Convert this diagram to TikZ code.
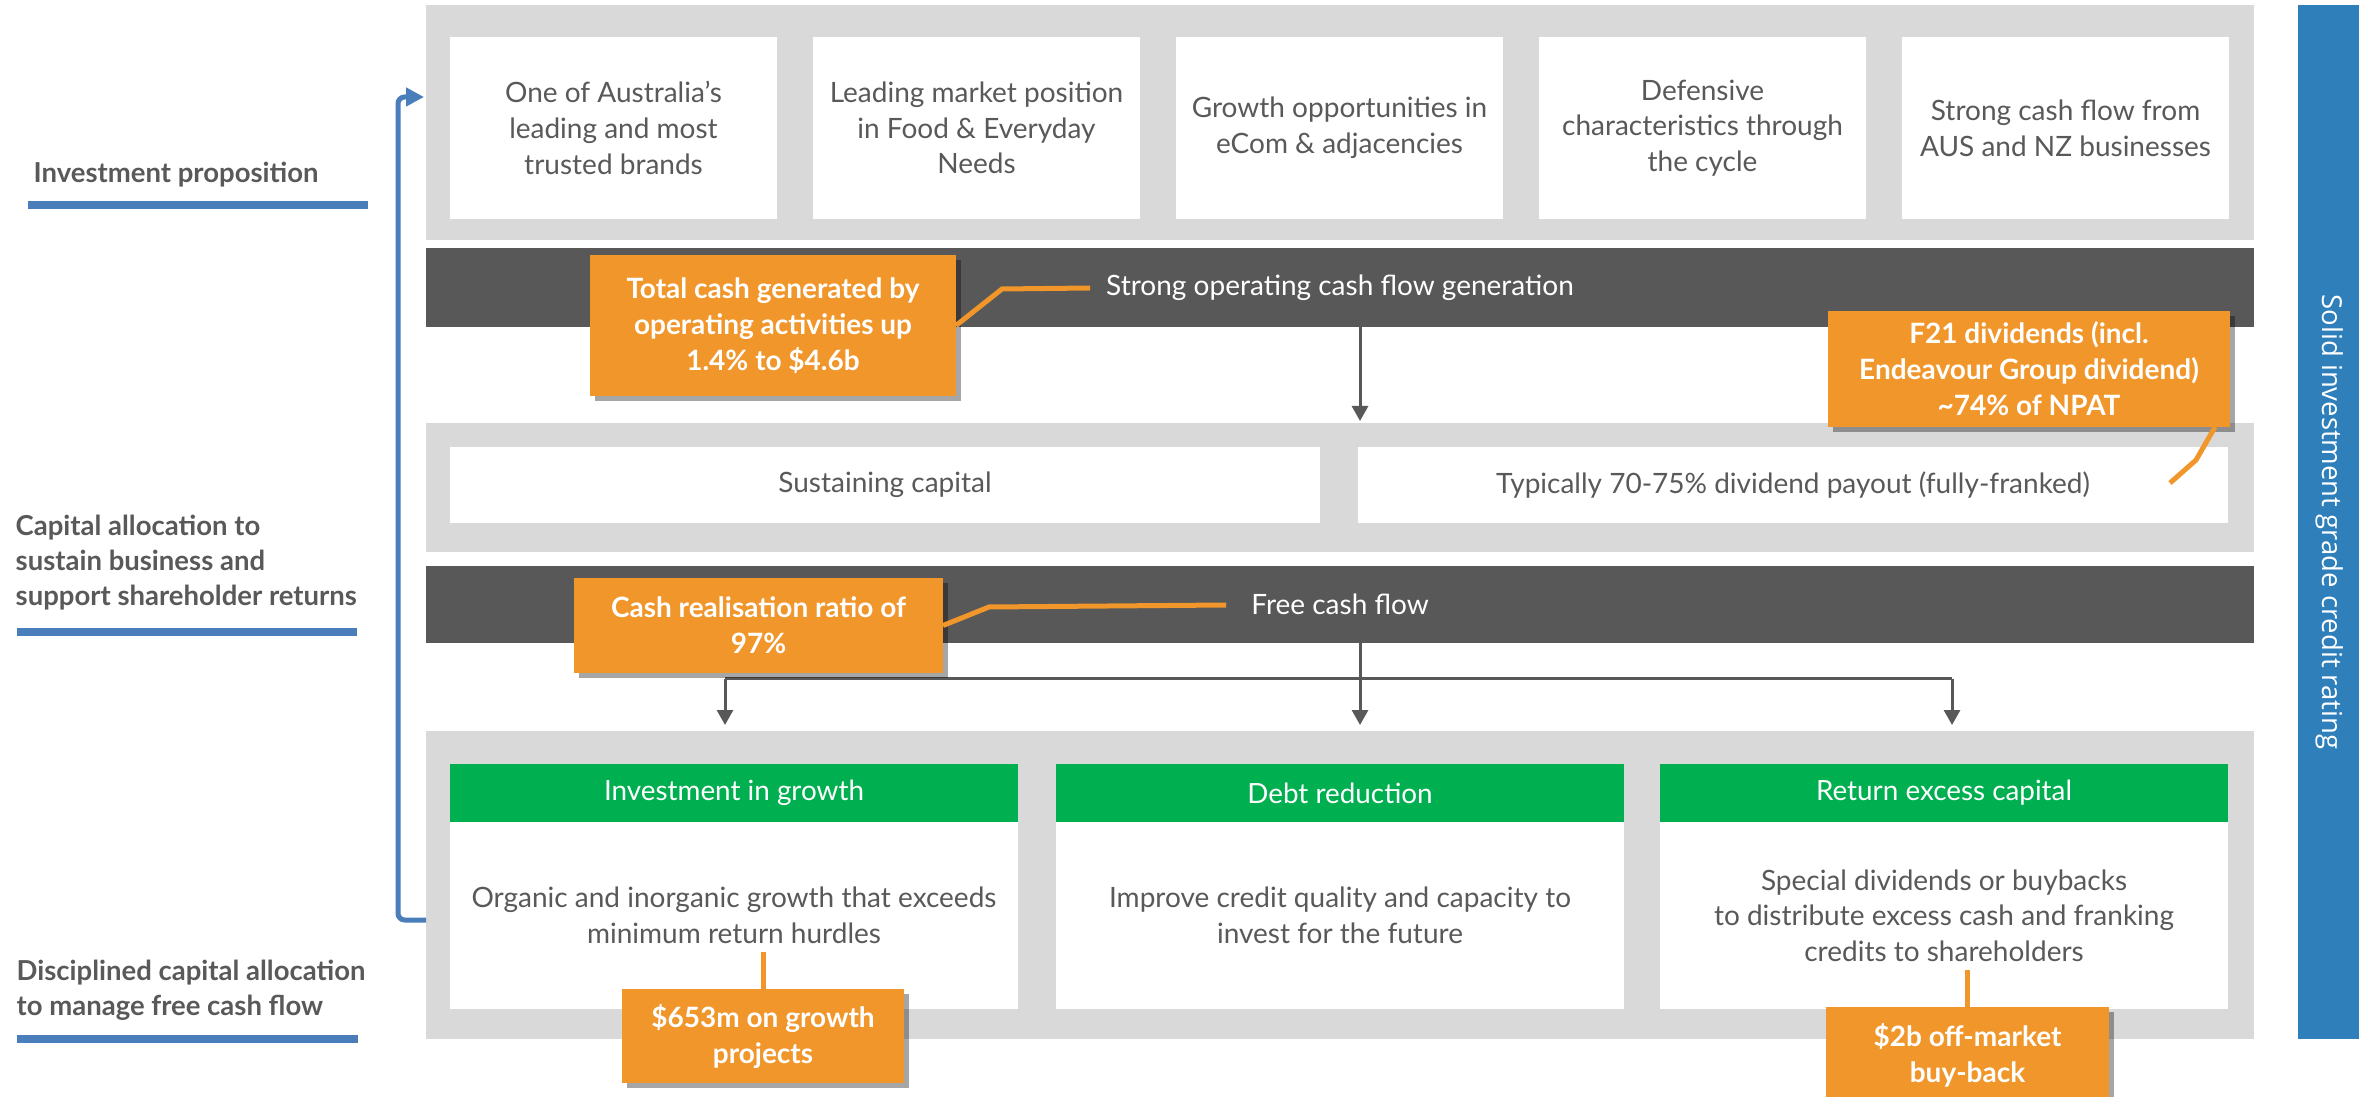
\documentclass[tikz,border=0pt]{standalone}
\usepackage{fontspec}
\setmainfont{Lato}
\newfontfamily\osans{Open Sans}
\usetikzlibrary{calc,shadows,arrows.meta}
\definecolor{cgray}{HTML}{D9D9D9}
\definecolor{cdark}{HTML}{585858}
\definecolor{corange}{HTML}{F0962A}
\definecolor{cgreen}{HTML}{00AF50}
\definecolor{cblue}{HTML}{2E7FBA}
\definecolor{cline}{HTML}{4A7EBB}
\definecolor{ctext}{HTML}{595959}
\tikzset{
  rect/.style={rectangle, inner sep=0pt, outer sep=0pt},
  panel/.style={rect, fill=cgray, minimum width=1828*0.3pt},
  wbox/.style={rect, fill=white, text=ctext, align=center, font=\fontsize{8.4pt}{10.7pt}\selectfont},
  topbox/.style={wbox, minimum width=327*0.3pt, minimum height=182*0.3pt},
  colbox/.style={wbox, minimum width=568*0.3pt, minimum height=187*0.3pt},
  bar/.style={rect, fill=cdark, text=white, minimum width=1828*0.3pt, font=\fontsize{8.4pt}{10pt}\selectfont},
  obox/.style={rect, fill=corange, text=white, align=center, font=\bfseries\fontsize{8.4pt}{10.8pt}\selectfont, drop shadow={shadow xshift=1.5pt, shadow yshift=-1.5pt, opacity=0.35, fill=black}},
  ghead/.style={rect, fill=cgreen, text=white, minimum width=568*0.3pt, minimum height=58*0.3pt, font=\fontsize{8.35pt}{10pt}\selectfont},
  lbl/.style={text=ctext, align=left, inner sep=0pt, font=\bfseries\fontsize{8.25pt}{10.5pt}\selectfont},
  uline/.style={draw=cline, line width=2.4pt},
  oline/.style={draw=corange, line width=1.5pt},
  garrow/.style={draw=cdark, line width=0.9pt, -{Triangle[length=4.5pt,width=4.8pt]}},
  gline/.style={draw=cdark, line width=0.9pt},
  barrow/.style={draw=cline, line width=1.5pt, rounded corners=2pt, -{Triangle[length=5.4pt,width=5.4pt]}}
}
\begin{document}
\begin{tikzpicture}[x=0.3pt,y=-0.3pt]
\useasboundingbox (0,0) rectangle (2367,1097);

% top panel
\node[panel, minimum height=235*0.3pt] (p1) at (1340,122.5) {};
\node[topbox] (t1) at (613.5,128) {One of Australia’s\\leading and most\\trusted brands};
\node[topbox] (t2) at (976.5,128) {Leading market position\\in Food \& Everyday\\Needs};
\node[topbox] (t3) at (1339.5,128) {Growth opportunities in\\eCom \& adjacencies};
\node[topbox] (t4) at (1702.5,128) {Defensive\\characteristics through\\the cycle};
\node[topbox] (t5) at (2065.5,128) {Strong cash flow from\\AUS and NZ businesses};

% bar 1
\node[bar, minimum height=79*0.3pt] (b1) at (1340,287.5) {Strong operating cash flow generation};

% panel 2
\node[panel, minimum height=129*0.3pt] (p2) at (1340,487.5) {};
\node[wbox, minimum width=870*0.3pt, minimum height=76*0.3pt] (s1) at (885,485) {Sustaining capital};
\node[wbox, minimum width=870*0.3pt, minimum height=76*0.3pt] (s2) at (1793,485) {Typically 70-75\% dividend payout (fully-franked)};

% bar 2
\node[bar, minimum height=77*0.3pt] (b2) at (1340,604.5) {Free cash flow};

% panel 3
\node[panel, minimum height=308*0.3pt] (p3) at (1340,885) {};
\node[ghead] (g1) at (734,793) {Investment in growth};
\node[ghead] (g2) at (1340,793) {Debt reduction};
\node[ghead] (g3) at (1944,793) {Return excess capital};
\node[colbox] (d1) at (734,915.5) {Organic and inorganic growth that exceeds\\minimum return hurdles};
\node[colbox] (d2) at (1340,915.5) {Improve credit quality and capacity to\\invest for the future};
\node[colbox] (d3) at (1944,915.5) {Special dividends or buybacks\\to distribute excess cash and franking\\credits to shareholders};

% right blue bar
\node[rect, fill=cblue, minimum width=61*0.3pt, minimum height=1034*0.3pt] (rb) at (2328.5,522) {};
\node[text=white, rotate=-90, inner sep=0pt, font=\osans\fontsize{8.25pt}{9pt}\selectfont] (rt) at (2330,522) {Solid investment grade credit rating};

% left labels
\node[lbl, anchor=base west] (l1) at (33,183) {Investment proposition};
\node[lbl, anchor=west] (l2) at (15,563) {Capital allocation to\\sustain business and\\support shareholder returns};
\node[lbl, anchor=west] (l3) at (16,990) {Disciplined capital allocation\\to manage free cash flow};
\draw[uline] (28,205) -- (368,205);
\draw[uline] (17,632.5) -- (357,632.5);
\draw[uline] (17,1039) -- (358,1039);

% gray arrows
\draw[garrow] ($(b1.south)+(20,0)$) -- ($(p2.north)+(20,-2)$);
\draw[garrow] ($(b2.south)+(20,0)$) -- ($(p3.north)+(20,-6)$);
\coordinate (bl) at (725,679);
\coordinate (br) at (1952,679);
\draw[gline] (bl) -- (br);
\draw[garrow] (bl) -- ($(bl |- p3.north)+(0,-6)$);
\draw[garrow] (br) -- ($(br |- p3.north)+(0,-6)$);

% blue feedback connector
\coordinate (bb) at (398,920);
\coordinate (bt) at (398,97);
\draw[barrow] (p3.west |- bb) -- (bb) -- (bt) -- ($(p1.west |- bt)+(-2,0)$);

% orange callouts
\node[obox, minimum width=366*0.3pt, minimum height=141*0.3pt] (o1) at (773,325.5) {Total cash generated by\\operating activities up\\1.4\% to \$4.6b};
\node[obox, minimum width=402*0.3pt, minimum height=116*0.3pt] (o2) at (2029,369) {F21 dividends (incl.\\Endeavour Group dividend)\\\textasciitilde74\% of NPAT};
\node[obox, minimum width=369*0.3pt, minimum height=95*0.3pt] (o3) at (758.5,625.5) {Cash realisation ratio of\\97\%};
\node[obox, minimum width=282*0.3pt, minimum height=94*0.3pt] (o4) at (763,1036) {\$653m on growth\\projects};
\node[obox, minimum width=283*0.3pt, minimum height=97*0.3pt] (o5) at (1967.5,1055.5) {\$2b off-market\\buy-back};

\coordinate (k1a) at (1002,289);
\coordinate (k1b) at (1090,288);
\draw[oline] (o1.east) -- (k1a) -- (k1b);
\coordinate (k2a) at (2196,460);
\coordinate (k2b) at (2170,483);
\draw[oline] ($(o2.south east)+(-15,0)$) -- (k2a) -- (k2b);
\coordinate (k3a) at (989,607);
\coordinate (k3b) at (1226,605);
\draw[oline] (o3.east) -- (k3a) -- (k3b);
\coordinate (k4) at (763,952);
\draw[oline] (k4) -- (o4.north);
\coordinate (k5) at (1967.5,970);
\draw[oline] (k5) -- (o5.north);
\end{tikzpicture}
\end{document}
